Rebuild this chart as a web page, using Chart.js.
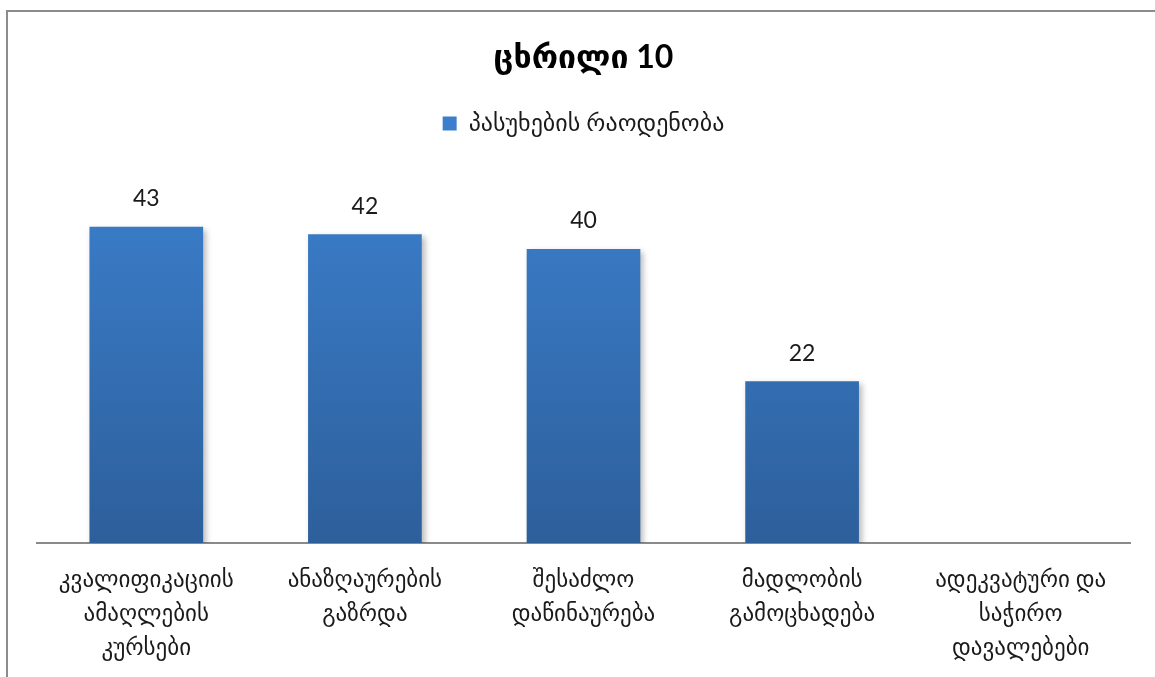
<!DOCTYPE html>
<html lang="ka">
<head>
<meta charset="UTF-8" />
<title>ცხრილი 10</title>
<style>
  html, body { margin: 0; padding: 0; background: #fff; overflow: hidden; }
  #wrap { position: absolute; left: 0; top: 0; width: 1155px; height: 677px; }
  #frame {
    position: absolute; left: 6px; top: 10px; width: 1160px; height: 700px;
    border: 2px solid #8c8c8c; pointer-events: none; box-sizing: border-box;
  }
</style>
</head>
<body>
<div id="wrap"><canvas id="chart"></canvas></div>
<div id="frame"></div>

<script src="https://cdn.jsdelivr.net/npm/chart.js@4"></script>
<script>
  const TITLE = 'ცხრილი 10';
  const SERIES_NAME = 'პასუხების რაოდენობა';
  const categories = [
    ['კვალიფიკაციის', 'ამაღლების', 'კურსები'],
    ['ანაზღაურების', 'გაზრდა'],
    ['შესაძლო', 'დაწინაურება'],
    ['მადლობის', 'გამოცხადება'],
    ['ადეკვატური და', 'საჭირო', 'დავალებები']
  ];
  const counts = [43, 42, 40, 22, null];

  const FONT = 'Lato, "DejaVu Sans", sans-serif';

  // gradient fill for the bars, top lighter, bottom darker
  function barFill(ctx) {
    const area = ctx.chart.chartArea;
    if (!area) return '#3a7bc8';
    const g = ctx.chart.ctx.createLinearGradient(0, area.top, 0, area.bottom);
    g.addColorStop(0, '#3b7fcc');
    g.addColorStop(1, '#2d5f9b');
    return g;
  }

  // soft shadow under bars
  const shadowPlugin = {
    id: 'barShadow',
    beforeDatasetsDraw(chart) {
      const c = chart.ctx;
      c.save();
      c.shadowColor = 'rgba(0,0,0,0.28)';
      c.shadowBlur = 6;
      c.shadowOffsetX = 3;
      c.shadowOffsetY = 3;
    },
    afterDatasetsDraw(chart) {
      chart.ctx.restore();
    }
  };

  // value labels above each bar
  const valueLabels = {
    id: 'valueLabels',
    afterDatasetsDraw(chart) {
      const c = chart.ctx;
      const meta = chart.getDatasetMeta(0);
      c.save();
      c.font = '23px ' + FONT;
      c.fillStyle = '#1a1a1a';
      c.textAlign = 'center';
      c.textBaseline = 'middle';
      meta.data.forEach((bar, i) => {
        const v = counts[i];
        if (v === null || v === undefined) return;
        c.fillText(String(v), bar.x, bar.y - 28);
      });
      c.restore();
    }
  };

  // extra space between legend and plot area
  const legendGap = {
    id: 'legendGap',
    beforeInit(chart) {
      const fit = chart.legend.fit;
      chart.legend.fit = function () {
        fit.bind(chart.legend)();
        this.height += 30;
      };
    }
  };

  new Chart(document.getElementById('chart'), {
    type: 'bar',
    data: {
      labels: categories,
      datasets: [{
        label: SERIES_NAME,
        data: counts,
        backgroundColor: barFill,
        borderWidth: 0,
        categoryPercentage: 1,
        barPercentage: 0.52
      }]
    },
    options: {
      responsive: true,
      maintainAspectRatio: false,
      animation: false,
      layout: { padding: { left: 37, right: 25, top: 0, bottom: -8 } },
      scales: {
        x: {
          grid: { display: false, drawTicks: false },
          border: { display: true, color: '#8a8a8a', width: 2 },
          ticks: {
            color: '#1a1a1a',
            padding: 20,
            maxRotation: 0,
            autoSkip: false,
            font: { family: FONT, size: 23, lineHeight: 1.478 }
          }
        },
        y: {
          display: false,
          min: 0,
          max: 50
        }
      },
      plugins: {
        title: {
          display: true,
          text: TITLE,
          color: '#000',
          font: { family: FONT, size: 32, weight: 'bold' },
          padding: { top: 38, bottom: 25 }
        },
        legend: {
          position: 'top',
          labels: {
            color: '#1a1a1a',
            boxWidth: 14,
            boxHeight: 14,
            padding: 10,
            font: { family: FONT, size: 24 }
          }
        },
        tooltip: { enabled: false }
      }
    },
    plugins: [shadowPlugin, valueLabels, legendGap]
  });
</script>
</body>
</html>
